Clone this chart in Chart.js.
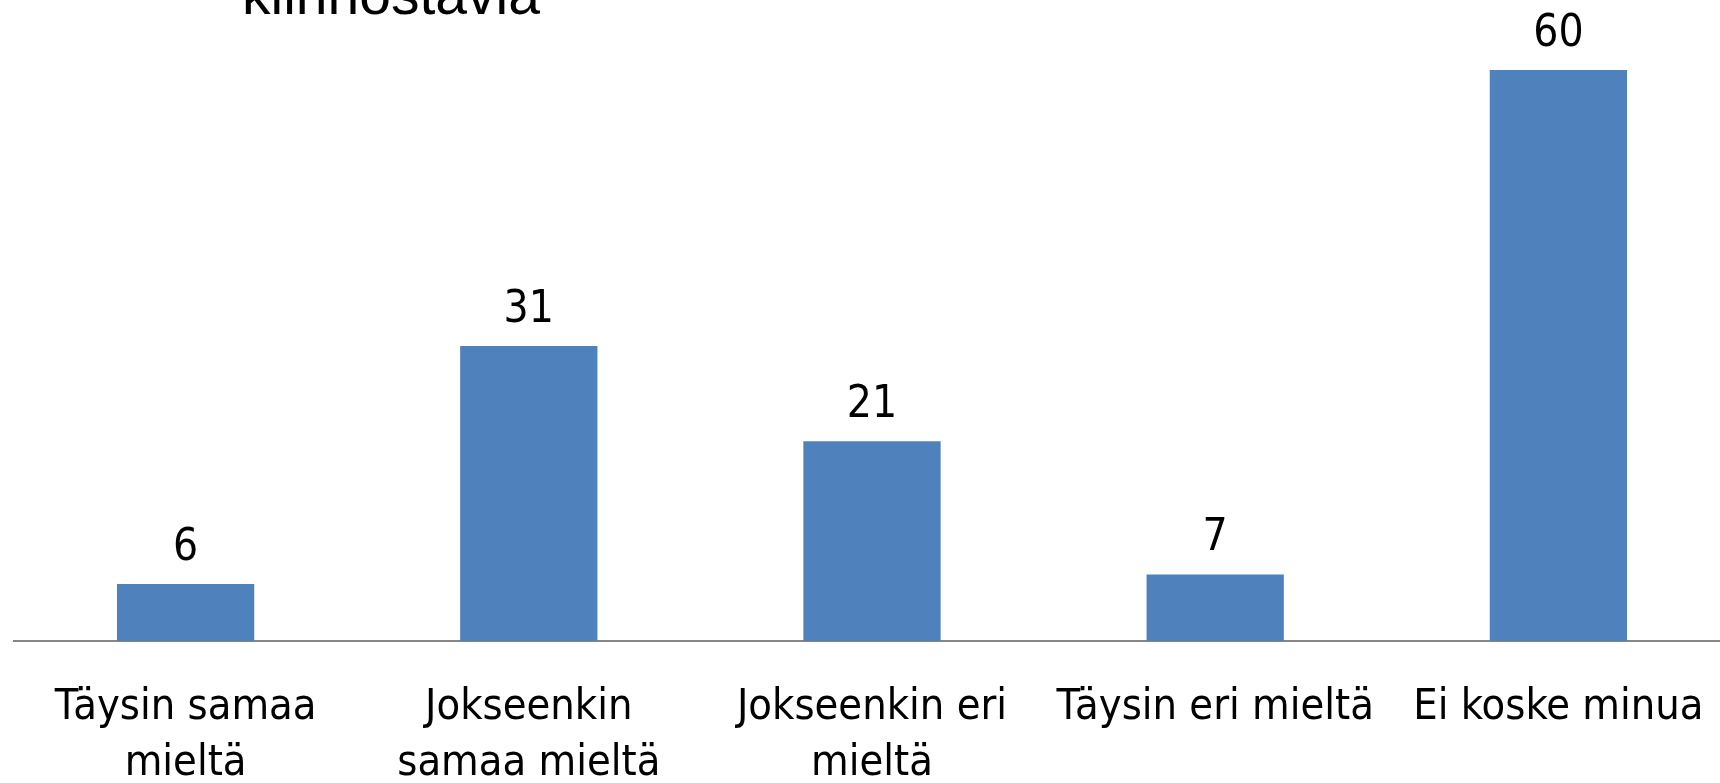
<!DOCTYPE html>
<html>

<head>
  <title>Kiinnostavia</title>
  <script src="https://cdn.jsdelivr.net/npm/chart.js@4"></script>
  <style>
    html, body {
      margin: 0;
      padding: 0;
      background: #fff;
      overflow: hidden;
    }

    #chart {
      display: block;
    }
  </style>
</head>

<body>
  <canvas id="chart" width="1730" height="783"></canvas>

  <script>
    // chart data
    const categories = [
      ['Täysin samaa', 'mieltä'],
      ['Jokseenkin', 'samaa mieltä'],
      ['Jokseenkin eri', 'mieltä'],
      'Täysin eri mieltä',
      'Ei koske minua'
    ];
    const values = [6, 31, 21, 7, 60];
    const titleText = 'kiinnostavia';

    const labelFont = "'DejaVu Sans Condensed', 'Liberation Sans Narrow', 'Liberation Sans', sans-serif";

    // title line (only its lower part is visible at the top edge)
    const titlePlugin = {
      id: 'cutTitle',
      afterDraw(chart) {
        const c = chart.ctx;
        c.save();
        c.font = "57px 'Liberation Sans', sans-serif";
        c.fillStyle = '#000';
        c.textAlign = 'left';
        c.textBaseline = 'alphabetic';
        c.fillText(titleText, 242, 14);
        c.restore();
      }
    };

    // value labels above the bars
    const valueLabels = {
      id: 'valueLabels',
      afterDatasetsDraw(chart) {
        const c = chart.ctx;
        const meta = chart.getDatasetMeta(0);
        c.save();
        c.font = '44px ' + labelFont;
        c.fillStyle = '#000';
        c.textAlign = 'center';
        c.textBaseline = 'alphabetic';
        meta.data.forEach(function (bar, i) {
          c.fillText(String(values[i]), bar.x, bar.y - 24);
        });
        c.restore();
      }
    };

    const ctx = document.getElementById('chart').getContext('2d');
    const chart = new Chart(ctx, {
      type: 'bar',
      data: {
        labels: categories,
        datasets: [{
          label: '',
          data: values,
          backgroundColor: '#4F81BD',
          borderWidth: 0,
          categoryPercentage: 1,
          barPercentage: 0.4
        }]
      },
      options: {
        responsive: false,
        animation: false,
        layout: {
          padding: { left: 14, right: 0, top: 70, bottom: 0 }
        },
        plugins: {
          legend: { display: false },
          tooltip: { enabled: false }
        },
        scales: {
          x: {
            grid: { display: false, drawTicks: false },
            border: { display: true, color: '#868686', width: 2 },
            afterFit: function (scale) {
              // fixed axis band height, no extra side padding for edge labels
              scale.height = 142;
              scale.paddingLeft = 0;
              scale.paddingRight = 0;
            },
            ticks: {
              color: '#000',
              padding: 39,
              autoSkip: false,
              maxRotation: 0,
              minRotation: 0,
              font: { family: labelFont, size: 43, lineHeight: 56 / 43 }
            }
          },
          y: {
            display: false,
            min: 0,
            max: 60
          }
        }
      },
      plugins: [titlePlugin, valueLabels]
    });
  </script>
</body>

</html>
